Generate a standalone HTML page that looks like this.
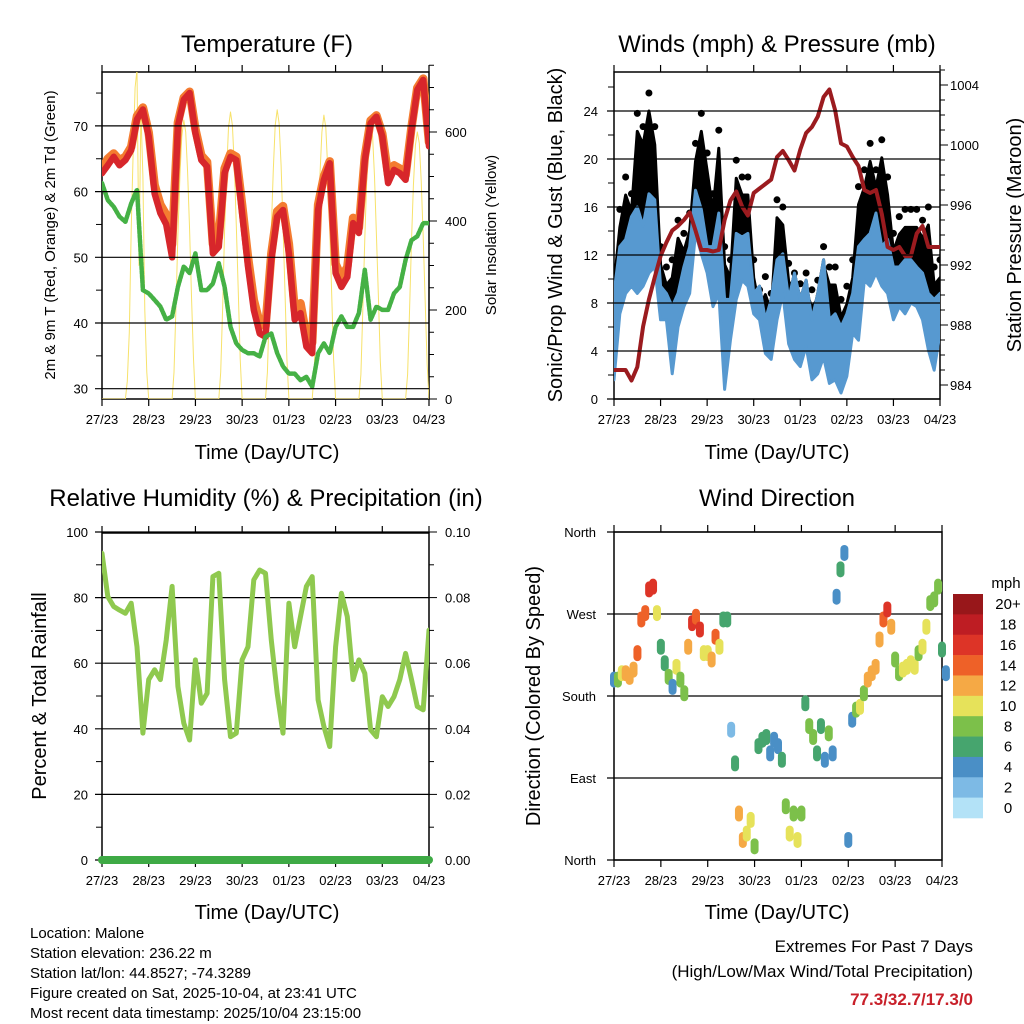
<!DOCTYPE html>
<html><head><meta charset="utf-8"><style>
body{margin:0;background:#fff}
svg{display:block;font-family:"Liberation Sans",Arial,sans-serif}
</style></head><body>
<svg id="s" width="1024" height="1024" viewBox="0 0 1024 1024" xmlns="http://www.w3.org/2000/svg">
<rect width="1024" height="1024" fill="#fff"/>
<g font-size="24" text-anchor="middle" fill="#000">
<text x="267" y="52">Temperature (F)</text>
<text x="777" y="52">Winds (mph) &amp; Pressure (mb)</text>
<text x="266" y="506">Relative Humidity (%) &amp; Precipitation (in)</text>
<text x="777" y="506">Wind Direction</text>
</g>
<g font-size="20" text-anchor="middle">
<text x="267" y="459">Time (Day/UTC)</text>
<text x="777" y="459">Time (Day/UTC)</text>
<text x="267" y="919">Time (Day/UTC)</text>
<text x="777" y="919">Time (Day/UTC)</text>
<text transform="translate(562,235) rotate(-90)">Sonic/Prop Wind &amp; Gust (Blue, Black)</text>
<text transform="translate(1021,235) rotate(-90)">Station Pressure (Maroon)</text>
<text transform="translate(46,696) rotate(-90)">Percent &amp; Total Rainfall</text>
<text transform="translate(540,696) rotate(-90)">Direction (Colored By Speed)</text>
</g>
<g font-size="15" text-anchor="middle">
<text transform="translate(55,235) rotate(-90)">2m &amp; 9m T (Red, Orange) &amp; 2m Td (Green)</text>
<text transform="translate(496,235) rotate(-90)">Solar Insolation (Yellow)</text>
</g>
<g font-size="15">
<text x="30" y="938">Location: Malone</text>
<text x="30" y="958">Station elevation: 236.22 m</text>
<text x="30" y="978">Station lat/lon: 44.8527; -74.3289</text>
<text x="30" y="998">Figure created on Sat, 2025-10-04, at 23:41 UTC</text>
<text x="30" y="1018">Most recent data timestamp: 2025/10/04 23:15:00</text>
</g>
<g font-size="17" text-anchor="end">
<text x="973" y="952">Extremes For Past 7 Days</text>
<text x="973" y="977">(High/Low/Max Wind/Total Precipitation)</text>
<text x="973" y="1005" fill="#c8202a" font-weight="bold">77.3/32.7/17.3/0</text>
</g>
<g id="marks"></g>
</svg>
<script>
// ---------- data (3-hourly unless noted, hours 0..168) ----------
const xTickLabels = ["27/23","28/23","29/23","30/23","01/23","02/23","03/23","04/23"];
const temp2m = [62.8,64,65.3,64,64.8,66.3,71,72.5,68.4,59.7,56.7,55,50,70,74,75,68.9,64.8,63.8,50.6,51.6,62.8,65.3,64.8,56.7,48.6,42,38.4,37.9,49.6,56.2,57.2,50.6,40.5,41.5,36.4,35.4,57.2,61.8,64.3,47.6,45.5,47,55.2,53.7,64.8,70.4,71.4,68.4,61.3,63.3,62.8,61.8,69.4,75.5,77,66.9];
const temp9m = [63.5,65,65.8,64.8,65.3,66.8,71.5,72.8,69,61,58,56.5,52,70.5,74.3,75.2,69.5,65.5,64.5,52,53,63.5,65.8,65.3,58,50,43.5,40,39.5,50.5,57,57.8,52,42,43,38,37,58,62.3,64.6,49,47,48.5,56,54.5,65.3,70.8,71.6,68.8,62.5,64,63.5,62.5,69.8,75.8,77.2,67.5];
const dewpoint = [61.3,58.7,57.7,56.2,55.4,58.2,60.3,45,44.5,43.5,42.5,40.5,41,45.5,48.6,47.6,50.6,45,45,46,49.1,45.5,39.4,36.9,35.9,35.4,35.4,34.9,37.9,38.4,35.4,33.4,32.3,32.3,31.3,31.8,30.3,35.4,36.9,35.4,39.4,41,39.4,39.4,41.5,48.1,40.5,42.5,42,42,44.5,45.5,49.6,52.6,53.2,55.2,55.2];
// hourly solar insolation
const solar = [0,0,0,0,0,0,0,0,0,0,0,0,0,40,150,380,550,700,740,300,650,500,200,60,
0,0,0,0,0,0,0,0,0,0,0,0,0,60,210,370,500,590,627,600,510,380,230,90,
0,0,0,0,0,0,0,0,0,0,0,0,0,60,210,380,510,610,645,615,520,390,240,90,
0,0,0,0,0,0,0,0,0,0,0,0,0,60,210,380,515,615,650,620,525,390,240,90,
0,0,0,0,0,0,0,0,0,0,0,0,0,60,205,375,505,600,638,610,515,385,235,90,
0,0,0,0,0,0,0,0,0,0,0,0,0,55,200,360,490,580,615,590,500,370,230,85,
0,0,0,0,0,0,0,0,0,0,0,0,0,55,195,355,480,570,600,575,490,365,225,80,0];
const windLow = [1.6,7.1,8.8,9.4,8.8,9.4,10.5,11,6.6,6.6,2.1,6,7.7,8.8,13.8,12.1,10.5,7.7,8.8,0.8,4.9,8.3,9.9,9.4,7.1,6.6,3.8,3.3,6.6,8.8,4.6,3.3,2.7,4.4,1.6,2.1,3.5,1.3,1.6,0.5,1.9,5.5,4.9,9.9,9.4,10.5,9.4,8.8,6.6,7.7,7.1,8,7.7,6.6,4.1,2.4,5.5];
const windHigh = [8.8,12.7,13.3,15.2,16,14.4,17.1,16.6,9.4,8.8,7.7,8.8,11,12.7,17.4,15.8,12.7,12.7,15.5,8.3,8.3,13.8,13.5,13.8,8.8,9.4,6.6,8.3,11.6,12.1,8.3,10.5,8.3,9.9,6.6,8.8,11.6,6.6,7.1,6,7.1,8.8,12.7,13.3,13.8,15.5,12.7,13.3,11,11,11.6,11.6,11,10.5,8.8,8.3,8.8];
const gust = [11,15.8,18.5,17.1,23.8,22.7,25.5,22.7,12.7,11,11.6,14.9,13.8,15.5,21.3,23.8,20.5,17.1,22.4,12.7,11.6,19.9,18.5,18.5,11.6,9.1,10.2,8.8,16.6,16,11.3,10.5,9.6,10.5,9.1,9.9,12.7,11,11,8.3,9.4,11.6,17.7,19.1,21.3,19.1,21.6,18.5,13.8,15.2,15.8,15.8,15.8,14.9,16,11,11.6];
const pressure = [985,985,985,984.3,985.2,987.9,989.7,991.2,992.6,993.5,994.3,994.6,995,995.5,994.3,993,993,992.9,993,995,996.3,996.9,995.9,995.3,996.8,997.1,997.4,997.7,999.2,999.6,999,998.3,999.7,1000.8,1001.2,1001.9,1003.2,1003.7,1002.3,1000.1,999.9,999.2,998.6,997,996.8,997,995.4,993.2,993,993.2,992.6,992.6,994.1,994.6,993.2,993.2,993.2];
const rh = [93.5,80.3,77.3,76.2,75.2,78.3,65,38.7,55,58,55,67,83.4,52.9,41.7,36.6,61,47.8,50.8,86.4,87.4,55,37.6,38.7,61,65,85.4,88.4,87.4,67,50.8,38.7,78.3,65,74.2,83.4,86.4,48.8,40.7,34.6,65,81.3,74.2,55,61,56.9,39.7,37.6,49.8,46.8,49.8,55,63,55,46.8,45.8,70.1];
const precip = [0,0,0,0,0,0,0,0,0,0,0,0,0,0,0,0,0,0,0,0,0,0,0,0,0,0,0,0,0,0,0,0,0,0,0,0,0,0,0,0,0,0,0,0,0,0,0,0,0,0,0,0,0,0,0,0,0];
// 2-hourly wind direction (deg) and speed (mph)
const windDir = [198,198,205,205,201,209,227,264,271,297,300,271,234,216,201,190,212,198,183,234,260,267,253,227,227,220,245,234,264,264,143,106,51,22,29,44,15,125,132,135,117,132,125,110,59,29,51,22,51,172,147,135,117,147,110,139,117,289,319,337,22,154,165,168,183,198,205,212,242,264,275,256,220,205,209,212,216,212,227,234,256,282,286,300,231,205];
const windSpd = [4,8,10,12,12,12,14,14,14,16,16,10,6,6,8,4,10,8,8,12,16,14,16,10,10,12,14,10,6,6,2,6,12,12,10,10,8,6,6,6,4,4,4,6,8,10,8,10,8,6,8,8,6,6,4,8,4,4,6,4,4,4,8,10,8,12,12,12,12,14,16,12,8,8,10,10,10,10,8,10,10,8,8,8,6,4];
const speedLabels = ["20+","18","16","14","12","10","8","6","4","2","0"];
const speedColors = ["#98171a","#be1d23","#dd3427","#ee6128","#f5a945","#e6e25a","#7cc04a","#46a56e","#4a8fc6","#7dbae5","#b3e2f7"];
const NS="http://www.w3.org/2000/svg";
const G=document.getElementById('marks');
function mk(tag,attrs,parent){const e=document.createElementNS(NS,tag);for(const k in attrs)e.setAttribute(k,attrs[k]);(parent||G).appendChild(e);return e;}
function txt(x,y,s,anchor,size,parent){const e=mk('text',{x:x,y:y,'text-anchor':anchor,'font-size':size},parent);e.textContent=s;return e;}
function X(L,W){return h=>L+h/168*W;}
const P1={L:102,R:429,T:72,B:399}, P2={L:614,R:940,T:72,B:399}, P3={L:102,R:429,T:533,B:860}, P4={L:614,R:942,T:532,B:860};
function frame(P,name){
  const g=mk('g',{});
  
  
  mk('rect',{x:P.L,y:P.T,width:P.R-P.L,height:P.B-P.T,fill:'none',stroke:'#000','stroke-width':1.5},g);
  const xs=X(P.L,P.R-P.L);
  for(let i=0;i<8;i++){const x=xs(i*24);
    mk('line',{x1:x,y1:P.T,x2:x,y2:P.T-7,stroke:'#000','stroke-width':1.2},g);
    mk('line',{x1:x,y1:P.B,x2:x,y2:P.B+7,stroke:'#000','stroke-width':1.2},g);
    const t=txt(x,P.B+25,xTickLabels[i],'middle',13,g);
    
    
  }
  return g;
}
function grid(P,y,g){mk('line',{x1:P.L-7,y1:y,x2:P.R,y2:y,stroke:'#000','stroke-width':1.2},g);}
function line(pts,attrs,name,parent){const e=mk('polyline',Object.assign({points:pts.map(p=>p[0].toFixed(1)+','+p[1].toFixed(1)).join(' '),fill:'none','stroke-linejoin':'round','stroke-linecap':'round'},attrs),parent);
  
  
  return e;}

// ---------- Panel 1: temperature ----------
(function(){
  const g=frame(P1,'temperature-panel');
  const x=X(P1.L,P1.R-P1.L);
  const yT=t=>388.7-(t-30)*6.57, yS=s=>399-s*0.445;
  const clip=mk('clipPath',{id:'c1'},g);mk('rect',{x:P1.L,y:P1.T,width:P1.R-P1.L,height:P1.B-P1.T},clip);
  const m=mk('g',{'clip-path':'url(#c1)'},g);
  line(solar.map((v,i)=>[x(i),yS(v)]),{stroke:'#f7e26b','stroke-width':1},'solar-line',m);
  line(temp9m.map((v,i)=>[x(i*3),yT(v)]),{stroke:'#f47c30','stroke-width':8.5},'temp-9m-line',m);
  line(temp2m.map((v,i)=>[x(i*3),yT(v)]),{stroke:'#d7262b','stroke-width':6.5},'temp-2m-line',m);
  line(dewpoint.map((v,i)=>[x(i*3),yT(v)]),{stroke:'#45b145','stroke-width':4.5,'stroke-dasharray':'3 1.5'},'dewpoint-line',m);
  for(let t=30;t<=70;t+=10){grid(P1,yT(t),g);txt(88,yT(t)+5,String(t),'end',13,g);}
  for(let t=35;t<=75;t+=10)mk('line',{x1:P1.L-6,y1:yT(t),x2:P1.L,y2:yT(t),stroke:'#000'},g);
  for(let s=0;s<=750;s+=50){const maj=s%200==0;mk('line',{x1:P1.R,y1:yS(s),x2:P1.R+(maj?8:5),y2:yS(s),stroke:'#000'},g);
    if(maj)txt(445,yS(s)+5,String(s),'start',13,g);}
})();

// ---------- Panel 2: winds & pressure ----------
(function(){
  const g=frame(P2,'winds-panel');
  const x=X(P2.L,P2.R-P2.L);
  const yW=s=>399-s*12, yP=p=>385-(p-984)*15;
  const clip=mk('clipPath',{id:'c2'},g);mk('rect',{x:P2.L,y:P2.T,width:P2.R-P2.L,height:P2.B-P2.T},clip);
  const m=mk('g',{'clip-path':'url(#c2)'},g);
  for(let s=0;s<=24;s+=4){grid(P2,yW(s),g);txt(598,yW(s)+5,String(s),'end',13,g);}
  for(let s=2;s<=26;s+=4)mk('line',{x1:P2.L-6,y1:yW(s),x2:P2.L,y2:yW(s),stroke:'#000'},g);
  const up=gust.map((v,i)=>[x(i*3),yW(v-1.5)]), hi=windHigh.map((v,i)=>[x(i*3),yW(v)]);
  const gp=mk('polygon',{points:up.concat(hi.slice().reverse()).map(p=>p.join(',')).join(' '),fill:'#000',stroke:'#000','stroke-width':3,'stroke-linejoin':'round'},m);
  
  
  gust.forEach((v,i)=>{const c=mk('circle',{cx:x(i*3),cy:yW(v),r:3.5,fill:'#000'},m);
    
    });
  const lo=windLow.map((v,i)=>[x(i*3),yW(v)]);
  const bp=mk('polygon',{points:hi.concat(lo.slice().reverse()).map(p=>p.join(',')).join(' '),fill:'#5799d0',stroke:'#5799d0','stroke-width':3,'stroke-linejoin':'round'},m);
  
  
  line(pressure.map((v,i)=>[x(i*3),yP(v)]),{stroke:'#9b1b1f','stroke-width':4},'pressure-line',m);
  for(let p=984;p<=1005;p++){const maj=p%4==0;mk('line',{x1:P2.R,y1:yP(p),x2:P2.R+(maj?8:5),y2:yP(p),stroke:'#000'},g);
    if(maj)txt(950,yP(p)+5,String(p),'start',13,g);}
})();

// ---------- Panel 3: RH ----------
(function(){
  const g=frame(P3,'humidity-panel');
  const x=X(P3.L,P3.R-P3.L);
  const yR=v=>860-v*3.28;
  for(let v=0;v<=100;v+=20){grid(P3,yR(v),g);txt(88,yR(v)+5,String(v),'end',13,g);
    txt(445,yR(v)+5,(v/1000).toFixed(2),'start',13,g);}
  for(let v=10;v<=90;v+=20)mk('line',{x1:P3.L-6,y1:yR(v),x2:P3.L,y2:yR(v),stroke:'#000'},g);
  for(let v=10;v<=100;v+=10)mk('line',{x1:P3.R,y1:yR(v),x2:P3.R+(v%20?5:8),y2:yR(v),stroke:'#000'},g);
  const clip=mk('clipPath',{id:'c3'},g);mk('rect',{x:P3.L,y:P3.T,width:P3.R-P3.L,height:P3.B-P3.T+10},clip);
  line(rh.map((v,i)=>[x(i*3),yR(v)]),{stroke:'#8fc94f','stroke-width':5,'clip-path':'url(#c3)'},'rh-line',g);
  line(precip.map((v,i)=>[x(i*3),yR(v*1000)]),{stroke:'#3eaa45','stroke-width':8},'precip-line',g);
})();

// ---------- Panel 4: wind direction ----------
(function(){
  const g=frame(P4,'wind-direction-panel');
  const x=X(P4.L,P4.R-P4.L);
  const yD=d=>860-d*328/360;
  const names=["North","East","South","West","North"];
  names.forEach((n,i)=>{grid(P4,yD(i*90),g);txt(596,yD(i*90)+5,n,'end',13,g);});
  windDir.forEach((d,i)=>{
    const idx=Math.max(0,Math.min(10,10-Math.floor(windSpd[i]/2)));
    const c=mk('rect',{x:x(i*2)-4,y:yD(d)-8,width:8,height:16,rx:4,fill:speedColors[idx]},g);
    
    
  });
  const lg=mk('g',{});
  
  
  txt(1006,588,'mph','middle',15,lg);
  const bh=224/11;
  speedLabels.forEach((s,i)=>{
    mk('rect',{x:953,y:594+i*bh,width:30,height:bh+0.3,fill:speedColors[i]},lg);
    txt(1008,594+i*bh+bh/2+5,s,'middle',15,lg);
  });
})();
</script>
</body></html>
